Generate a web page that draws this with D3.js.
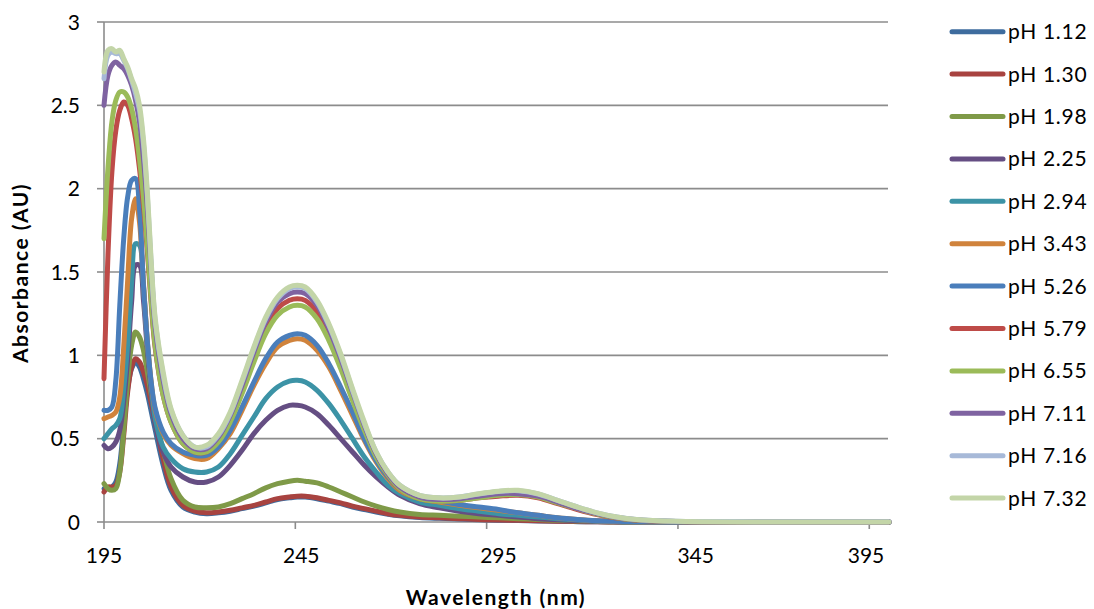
<!DOCTYPE html>
<html>
<head>
	<script src="https://cdn.jsdelivr.net/npm/d3@7"></script>
	<style>
		html, body {
			padding: 0;
			margin: 0;
			background: #ffffff;
		}
		text {
			font-family: Lato, "Open Sans", sans-serif;
			fill: #000000;
		}
	</style>
</head>
<body>
	<script>
		var width = 1094,
			height = 609;

		// wavelengths (nm) shared by all spectra
		var wavelengths = [195,196,197,198,199,200,201,202,203,204,205,206,207,208,210,212,215,218,221,224,227,230,233,236,239,242,244,246,249,252,255,258,261,264,267,270,275,280,285,290,295,300,305,310,315,320,325,330,340,360,394];

		var phLabels = ["pH 1.12","pH 1.30","pH 1.98","pH 2.25","pH 2.94","pH 3.43","pH 5.26","pH 5.79","pH 6.55","pH 7.11","pH 7.16","pH 7.32"];
		var colors = ["#3E6C9E","#A84340","#7F9A48","#654E83","#3C93A6","#D0833C","#4A7EBB","#BE4B48","#9BBB59","#7F63A1","#A7B9D8","#C3D5A8"];

		var ph112 = [0.20,0.20,0.21,0.24,0.35,0.58,0.80,0.92,0.96,0.93,0.86,0.77,0.66,0.55,0.34,0.19,0.09,0.06,0.05,0.055,0.065,0.08,0.095,0.115,0.135,0.145,0.15,0.15,0.14,0.125,0.11,0.09,0.075,0.06,0.047,0.037,0.027,0.022,0.018,0.014,0.011,0.009,0.006,0.004,0.002,0.001,0,0,0,0,0];
		var ph130 = [0.18,0.21,0.21,0.22,0.30,0.52,0.78,0.93,0.98,0.96,0.90,0.82,0.71,0.60,0.38,0.21,0.10,0.065,0.055,0.06,0.07,0.085,0.10,0.12,0.14,0.15,0.155,0.155,0.145,0.13,0.115,0.095,0.08,0.065,0.05,0.04,0.03,0.025,0.02,0.015,0.012,0.01,0.007,0.005,0.003,0.001,0,0,0,0,0];
		var ph198 = [0.23,0.20,0.19,0.20,0.30,0.55,0.85,1.06,1.14,1.11,1.03,0.90,0.76,0.63,0.43,0.26,0.13,0.09,0.085,0.09,0.11,0.14,0.17,0.205,0.23,0.245,0.25,0.245,0.235,0.21,0.18,0.15,0.12,0.095,0.075,0.06,0.045,0.04,0.035,0.03,0.025,0.02,0.015,0.01,0.006,0.003,0.001,0,0,0,0];
		var ph225 = [0.46,0.44,0.45,0.48,0.55,0.72,0.98,1.32,1.54,1.54,1.33,1.03,0.78,0.60,0.42,0.33,0.27,0.24,0.24,0.27,0.34,0.43,0.53,0.61,0.67,0.70,0.70,0.69,0.65,0.58,0.50,0.42,0.34,0.27,0.21,0.16,0.11,0.085,0.065,0.05,0.04,0.03,0.02,0.013,0.008,0.004,0.002,0.001,0,0,0];
		var ph294 = [0.50,0.53,0.56,0.58,0.62,0.80,1.07,1.44,1.67,1.66,1.42,1.07,0.81,0.62,0.45,0.38,0.32,0.30,0.30,0.33,0.41,0.52,0.63,0.74,0.81,0.845,0.85,0.84,0.79,0.71,0.61,0.50,0.39,0.30,0.22,0.17,0.12,0.10,0.08,0.065,0.05,0.04,0.03,0.02,0.012,0.006,0.003,0.001,0,0,0];
		var ph343 = [0.62,0.63,0.64,0.66,0.75,1.05,1.45,1.82,1.94,1.80,1.43,1.08,0.83,0.67,0.53,0.46,0.41,0.38,0.38,0.44,0.53,0.67,0.82,0.95,1.05,1.09,1.10,1.09,1.03,0.93,0.79,0.64,0.49,0.36,0.26,0.19,0.14,0.12,0.10,0.085,0.07,0.055,0.04,0.025,0.015,0.008,0.004,0.002,0,0,0];
		var ph526 = [0.67,0.67,0.69,0.85,1.30,1.70,1.95,2.05,2.06,1.88,1.42,1.08,0.83,0.68,0.54,0.47,0.42,0.40,0.40,0.45,0.55,0.69,0.84,0.98,1.08,1.12,1.13,1.12,1.06,0.95,0.81,0.66,0.50,0.37,0.27,0.20,0.15,0.125,0.105,0.09,0.075,0.055,0.04,0.025,0.015,0.008,0.004,0.002,0,0,0];
		var ph579 = [0.86,1.60,2.10,2.35,2.47,2.52,2.50,2.42,2.30,2.12,1.90,1.62,1.30,1.04,0.76,0.60,0.47,0.42,0.42,0.49,0.62,0.79,0.98,1.16,1.28,1.33,1.34,1.33,1.26,1.12,0.95,0.76,0.57,0.40,0.28,0.20,0.14,0.125,0.13,0.145,0.155,0.16,0.145,0.11,0.075,0.045,0.024,0.011,0.003,0,0];
		var ph655 = [1.70,2.12,2.40,2.53,2.58,2.58,2.55,2.48,2.36,2.18,1.95,1.65,1.32,1.05,0.76,0.60,0.47,0.42,0.42,0.48,0.60,0.77,0.96,1.13,1.24,1.29,1.30,1.29,1.22,1.09,0.92,0.73,0.55,0.39,0.28,0.20,0.14,0.125,0.13,0.145,0.16,0.165,0.15,0.115,0.08,0.048,0.026,0.012,0.003,0,0];
		var ph711 = [2.50,2.68,2.74,2.76,2.74,2.72,2.68,2.62,2.53,2.40,2.18,1.88,1.50,1.17,0.85,0.65,0.50,0.44,0.44,0.51,0.64,0.82,1.02,1.20,1.32,1.37,1.38,1.37,1.30,1.16,0.98,0.78,0.58,0.41,0.29,0.21,0.15,0.135,0.14,0.155,0.17,0.17,0.155,0.12,0.08,0.05,0.027,0.013,0.003,0,0];
		var ph716 = [2.66,2.80,2.82,2.81,2.81,2.77,2.72,2.65,2.57,2.47,2.27,1.95,1.53,1.20,0.88,0.67,0.52,0.45,0.45,0.52,0.65,0.84,1.04,1.22,1.34,1.40,1.41,1.40,1.32,1.18,1.00,0.79,0.59,0.42,0.30,0.22,0.16,0.145,0.15,0.168,0.183,0.188,0.168,0.13,0.09,0.055,0.03,0.015,0.005,0.002,0.002];
		var ph732 = [2.70,2.83,2.84,2.82,2.83,2.78,2.73,2.66,2.60,2.50,2.30,1.98,1.55,1.22,0.90,0.68,0.52,0.45,0.46,0.53,0.66,0.85,1.05,1.23,1.35,1.41,1.42,1.41,1.33,1.19,1.01,0.80,0.60,0.42,0.30,0.22,0.16,0.145,0.15,0.17,0.185,0.19,0.17,0.13,0.09,0.055,0.03,0.015,0.004,0,0];

		var seriesValues = [ph112, ph130, ph198, ph225, ph294, ph343, ph526, ph579, ph655, ph711, ph716, ph732];

		var yTicks = [0, 0.5, 1, 1.5, 2, 2.5, 3];
		var xTickLabels = [195, 245, 295, 345, 395];
		var xTickMarks = [195, 243.5, 292, 340.5, 389];

		var plot = { left: 104, right: 889, top: 22, bottom: 522 };

		var svg = d3.select('body').append('svg')
			.attr('width', width)
			.attr('height', height);

		var x = d3.scaleLinear().domain([195, 394]).range([plot.left, plot.right]);
		var y = d3.scaleLinear().domain([0, 3]).range([plot.bottom, plot.top]);

		// gridlines
		svg.append('g').selectAll('line')
			.data(yTicks.filter(function (d) { return d > 0; }))
			.enter().append('line')
			.attr('x1', plot.left).attr('x2', plot.right - 1)
			.attr('y1', function (d) { return y(d); })
			.attr('y2', function (d) { return y(d); })
			.attr('stroke', '#8c8c8c')
			.attr('stroke-width', 1.6);

		// y axis
		var yAxis = svg.append('g');
		yAxis.append('line')
			.attr('x1', plot.left).attr('x2', plot.left)
			.attr('y1', plot.top).attr('y2', plot.bottom)
			.attr('stroke', '#8c8c8c').attr('stroke-width', 1.6);
		yAxis.selectAll('.tick')
			.data(yTicks)
			.enter().append('line')
			.attr('x1', plot.left - 7).attr('x2', plot.left)
			.attr('y1', function (d) { return y(d); })
			.attr('y2', function (d) { return y(d); })
			.attr('stroke', '#8c8c8c').attr('stroke-width', 1.6);
		yAxis.selectAll('text')
			.data(yTicks)
			.enter().append('text')
			.attr('x', 80)
			.attr('y', function (d) { return y(d); })
			.attr('dy', '0.36em')
			.attr('text-anchor', 'end')
			.style('font-size', '21px')
			.text(function (d) { return d; });

		// x axis
		var xAxis = svg.append('g');
		xAxis.append('line')
			.attr('x1', plot.left).attr('x2', plot.right - 1)
			.attr('y1', plot.bottom).attr('y2', plot.bottom)
			.attr('stroke', '#8c8c8c').attr('stroke-width', 1.6);
		xAxis.selectAll('.tick')
			.data(xTickMarks)
			.enter().append('line')
			.attr('x1', function (d) { return x(d); })
			.attr('x2', function (d) { return x(d); })
			.attr('y1', plot.bottom).attr('y2', plot.bottom + 7)
			.attr('stroke', '#8c8c8c').attr('stroke-width', 1.6);
		xAxis.selectAll('text')
			.data(xTickLabels)
			.enter().append('text')
			.attr('x', function (d) { return Math.min(x(d), plot.right - 23); })
			.attr('y', 563)
			.attr('text-anchor', 'middle')
			.style('font-size', '21px')
			.text(function (d) { return d; });

		// axis titles
		svg.append('text')
			.attr('transform', 'translate(28,273) rotate(-90)')
			.attr('text-anchor', 'middle')
			.style('font-size', '21px')
			.style('font-weight', 'bold')
			.style('letter-spacing', '1.5px')
			.text('Absorbance (AU)');
		svg.append('text')
			.attr('x', 496)
			.attr('y', 605)
			.attr('text-anchor', 'middle')
			.style('font-size', '21px')
			.style('font-weight', 'bold')
			.style('letter-spacing', '1.5px')
			.text('Wavelength (nm)');

		// spectra
		var line = d3.line()
			.x(function (d, i) { return x(wavelengths[i]); })
			.y(function (d) { return y(d); })
			.curve(d3.curveCatmullRom.alpha(0.5));

		svg.append('g').selectAll('path')
			.data(seriesValues)
			.enter().append('path')
			.attr('d', line)
			.attr('fill', 'none')
			.attr('stroke', function (d, i) { return colors[i]; })
			.attr('stroke-width', 5)
			.attr('stroke-linejoin', 'round')
			.attr('stroke-linecap', 'round');

		// legend
		var legend = svg.append('g').selectAll('g')
			.data(phLabels)
			.enter().append('g')
			.attr('transform', function (d, i) { return 'translate(950,' + (31.7 + i * 42.4) + ')'; });
		legend.append('line')
			.attr('x1', 2).attr('x2', 53)
			.attr('stroke', function (d, i) { return colors[i]; })
			.attr('stroke-width', 5)
			.attr('stroke-linecap', 'round');
		legend.append('text')
			.attr('x', 58)
			.attr('dy', '0.36em')
			.style('font-size', '21px')
			.style('letter-spacing', '0.7px')
			.text(function (d) { return d; });
	</script>
</body>
</html>
